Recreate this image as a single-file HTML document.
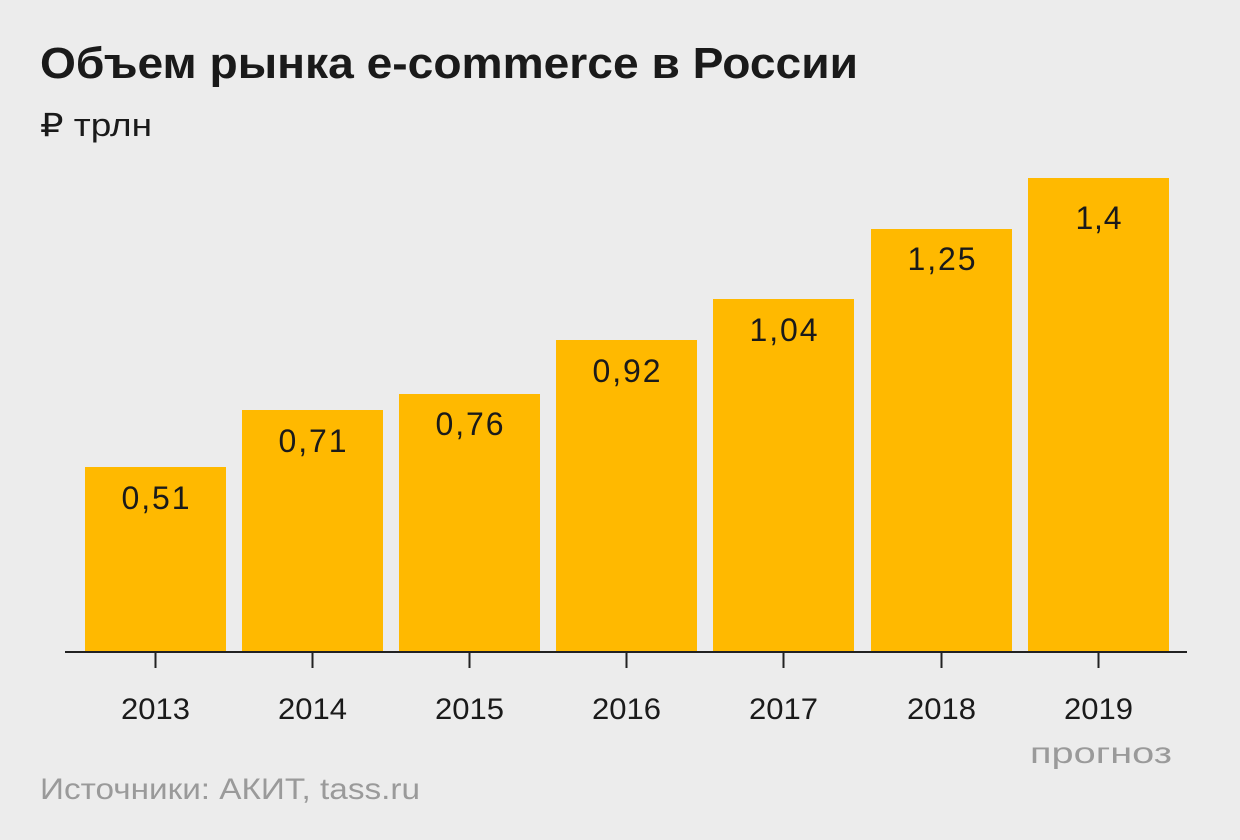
<!DOCTYPE html>
<html><head><meta charset="utf-8"><style>
body{margin:0;background:#ececec;}
svg{display:block;font-family:"Liberation Sans","DejaVu Sans",sans-serif;}
</style></head><body>
<svg width="1240" height="840" viewBox="0 0 1240 840">
<rect width="1240" height="840" fill="#ececec"/>
<text x="40" y="78" font-size="44" font-weight="bold" fill="#1a1a1a" textLength="818" lengthAdjust="spacingAndGlyphs">Объем рынка e-commerce в России</text>
<text x="40" y="136" font-size="32" fill="#1a1a1a" textLength="112" lengthAdjust="spacingAndGlyphs">₽ трлн</text>
<g fill="#ffb900">
<rect x="85" y="467" width="141" height="185"/>
<rect x="242" y="410" width="141" height="242"/>
<rect x="399" y="394" width="141" height="258"/>
<rect x="556" y="340" width="141" height="312"/>
<rect x="713" y="299" width="141" height="353"/>
<rect x="871" y="229" width="141" height="423"/>
<rect x="1028" y="178" width="141" height="474"/>
</g>
<line x1="65" y1="652" x2="1187" y2="652" stroke="#222" stroke-width="2"/>
<g stroke="#222" stroke-width="2">
<line x1="155.5" y1="652" x2="155.5" y2="668"/><line x1="312.5" y1="652" x2="312.5" y2="668"/>
<line x1="469.5" y1="652" x2="469.5" y2="668"/><line x1="626.5" y1="652" x2="626.5" y2="668"/>
<line x1="783.5" y1="652" x2="783.5" y2="668"/><line x1="941.5" y1="652" x2="941.5" y2="668"/>
<line x1="1098.5" y1="652" x2="1098.5" y2="668"/>
</g>
<g font-size="32" fill="#1a1a1a" text-anchor="middle" lengthAdjust="spacingAndGlyphs">
<text x="155.5" y="509" textLength="68">0,51</text><text x="312.5" y="452" textLength="68">0,71</text>
<text x="469.5" y="435" textLength="68">0,76</text><text x="626.5" y="382" textLength="68">0,92</text>
<text x="783.5" y="341" textLength="68">1,04</text><text x="941.5" y="270" textLength="68">1,25</text>
<text x="1098.5" y="229" textLength="46">1,4</text>
</g>
<g font-size="30" fill="#1a1a1a" text-anchor="middle">
<text x="155.5" y="719" textLength="69" lengthAdjust="spacingAndGlyphs">2013</text><text x="312.5" y="719" textLength="69" lengthAdjust="spacingAndGlyphs">2014</text>
<text x="469.5" y="719" textLength="69" lengthAdjust="spacingAndGlyphs">2015</text><text x="626.5" y="719" textLength="69" lengthAdjust="spacingAndGlyphs">2016</text>
<text x="783.5" y="719" textLength="69" lengthAdjust="spacingAndGlyphs">2017</text><text x="941.5" y="719" textLength="69" lengthAdjust="spacingAndGlyphs">2018</text>
<text x="1098.5" y="719" textLength="69" lengthAdjust="spacingAndGlyphs">2019</text>
</g>
<text x="1030" y="763" font-size="30" fill="#9a9a9a" textLength="142" lengthAdjust="spacingAndGlyphs">прогноз</text>
<text x="40" y="799" font-size="30" fill="#9a9a9a" textLength="380" lengthAdjust="spacingAndGlyphs">Источники: АКИТ, tass.ru</text>
</svg>
</body></html>
